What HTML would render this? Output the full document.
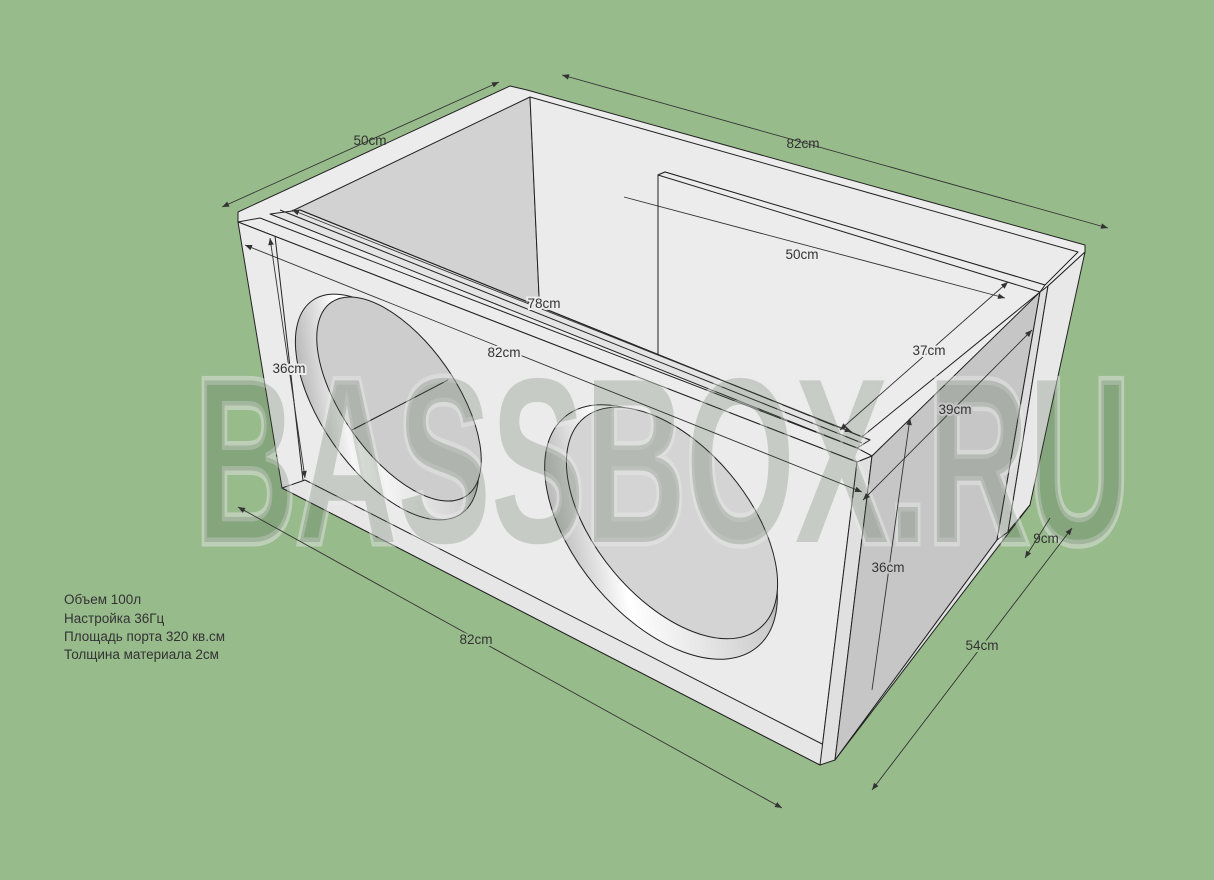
<!DOCTYPE html>
<html><head><meta charset="utf-8"><style>
html,body{margin:0;padding:0;background:#98bb8c;}
svg{display:block;}
text{font-family:"Liberation Sans",sans-serif;}
</style></head><body>
<svg width="1214" height="880" viewBox="0 0 1214 880" xmlns="http://www.w3.org/2000/svg">
<defs>
<linearGradient id="g1" x1="0" y1="0" x2="1" y2="1">
<stop offset="0" stop-color="#888"/><stop offset="0.35" stop-color="#fff"/><stop offset="0.8" stop-color="#ccc"/><stop offset="1" stop-color="#555"/>
</linearGradient>
<marker id="a" viewBox="0 0 10 10" refX="10" refY="5" markerWidth="9" markerHeight="7" orient="auto-start-reverse" markerUnits="userSpaceOnUse"><path d="M0,1 L10,5 L0,9 z" fill="#333"/></marker>
</defs>
<g stroke="#222" stroke-width="1" stroke-linejoin="round">
<polygon points="238,212 510,86 527,90 1085,245 1085,252 1048,286 872,456 857,462 238,222" fill="#ececec"/>
<polygon points="290,212 530,97 540,318 340,232" fill="#d2d2d2"/>
<polygon points="530,97 1078,252 1045,285 665,172 658,175 658,362 540,318" fill="#ebebeb"/>
<polygon points="658,175 665,172 1045,285 1040,292 858,440 658,362" fill="#ececec"/>
<line x1="658" y1="175" x2="1040" y2="292"/>
<polygon points="270,214 300,210 870,440 857,448" fill="#e4e4e4"/>
<polygon points="260,218 857,448 872,456 857,462 238,222" fill="#ececec"/>
<line x1="280" y1="210" x2="862" y2="443"/>
<line x1="300" y1="210" x2="870" y2="440"/>
<polygon points="238,222 857,462 820,765 282,488" fill="#ebebeb"/>
<line x1="275" y1="236" x2="305" y2="498"/>
<polygon points="282,488 305,480 830,748 820,765" fill="#e6e6e6"/>
<polygon points="857,462 872,456 835,760 820,765" fill="#e0e0e0"/>
<polygon points="872,456 1040,292 997,540 835,760" fill="#c6c6c6"/>
<polygon points="1040,292 1048,286 1008,532 997,540" fill="#dedede"/>
<polygon points="1048,286 1085,252 1030,505 1008,532" fill="#e8e8e8"/>
<polygon points="997,540 1008,532 1030,505 835,760" fill="#e2e2e2"/>
<!-- hole 1 -->
<ellipse cx="387" cy="407" rx="65" ry="130" transform="rotate(-35 387 407)" fill="url(#g1)"/>
<ellipse cx="399" cy="399" rx="57" ry="118" transform="rotate(-35 399 399)" fill="#cdcdcd"/>
<line x1="352" y1="430" x2="448" y2="380"/>
<!-- hole 2 -->
<ellipse cx="661" cy="532" rx="85" ry="150" transform="rotate(-40 661 532)" fill="url(#g1)"/>
<ellipse cx="672" cy="523" rx="76" ry="137" transform="rotate(-40 672 523)" fill="#d4d4d4"/>
</g>
<!-- watermark -->
<text x="195" y="542" font-size="235" font-weight="bold" textLength="935" lengthAdjust="spacingAndGlyphs" fill="rgba(70,90,70,0.22)" stroke="rgba(235,235,235,0.45)" stroke-width="9" style="paint-order:stroke" font-family="Liberation Sans, sans-serif">BASSBOX.RU</text>
<g stroke="#333" stroke-width="0.9" fill="none">
<line x1="222" y1="207" x2="499" y2="82" marker-start="url(#a)" marker-end="url(#a)"/>
<line x1="562" y1="75" x2="1108" y2="228" marker-start="url(#a)" marker-end="url(#a)"/>
<line x1="624" y1="197" x2="1005" y2="298" marker-end="url(#a)"/>
<line x1="292" y1="210" x2="852" y2="432" marker-start="url(#a)" marker-end="url(#a)"/>
<line x1="245" y1="245" x2="862" y2="492" marker-start="url(#a)" marker-end="url(#a)"/>
<line x1="270" y1="238" x2="305" y2="478" marker-start="url(#a)" marker-end="url(#a)"/>
<line x1="840" y1="430" x2="1008" y2="282" marker-start="url(#a)" marker-end="url(#a)"/>
<line x1="863" y1="500" x2="1032" y2="330" marker-start="url(#a)" marker-end="url(#a)"/>
<line x1="872" y1="690" x2="910" y2="418" marker-end="url(#a)"/>
<line x1="238" y1="507" x2="782" y2="808" marker-start="url(#a)" marker-end="url(#a)"/>
<line x1="872" y1="790" x2="1072" y2="528" marker-start="url(#a)" marker-end="url(#a)"/>
<line x1="1025" y1="558" x2="1050" y2="518" marker-start="url(#a)"/>
</g>
<g font-size="13.5" fill="#333" text-anchor="middle">
<text x="370" y="145">50cm</text>
<text x="803" y="148">82cm</text>
<text x="802" y="259" stroke="#ececec" stroke-width="4" style="paint-order:stroke">50cm</text>
<text x="544" y="308" stroke="#ececec" stroke-width="4" style="paint-order:stroke">78cm</text>
<text x="504" y="357" stroke="#ebebeb" stroke-width="4" style="paint-order:stroke">82cm</text>
<text x="289" y="373" stroke="#ebebeb" stroke-width="4" style="paint-order:stroke">36cm</text>
<text x="929" y="355" stroke="#ececec" stroke-width="4" style="paint-order:stroke">37cm</text>
<text x="955" y="414" stroke="#c6c6c6" stroke-width="4" style="paint-order:stroke">39cm</text>
<text x="888" y="572" stroke="#c6c6c6" stroke-width="4" style="paint-order:stroke">36cm</text>
<text x="476" y="644" stroke="#98bb8c" stroke-width="4" style="paint-order:stroke">82cm</text>
<text x="982" y="650" stroke="#98bb8c" stroke-width="4" style="paint-order:stroke">54cm</text>
<text x="1046" y="543">9cm</text>
</g>
<g font-size="13.5" fill="#333">
<text x="64" y="604">Объем 100л</text>
<text x="64" y="623">Настройка 36Гц</text>
<text x="64" y="641">Площадь порта 320 кв.см</text>
<text x="64" y="659">Толщина материала 2см</text>
</g>
</svg>
</body></html>
